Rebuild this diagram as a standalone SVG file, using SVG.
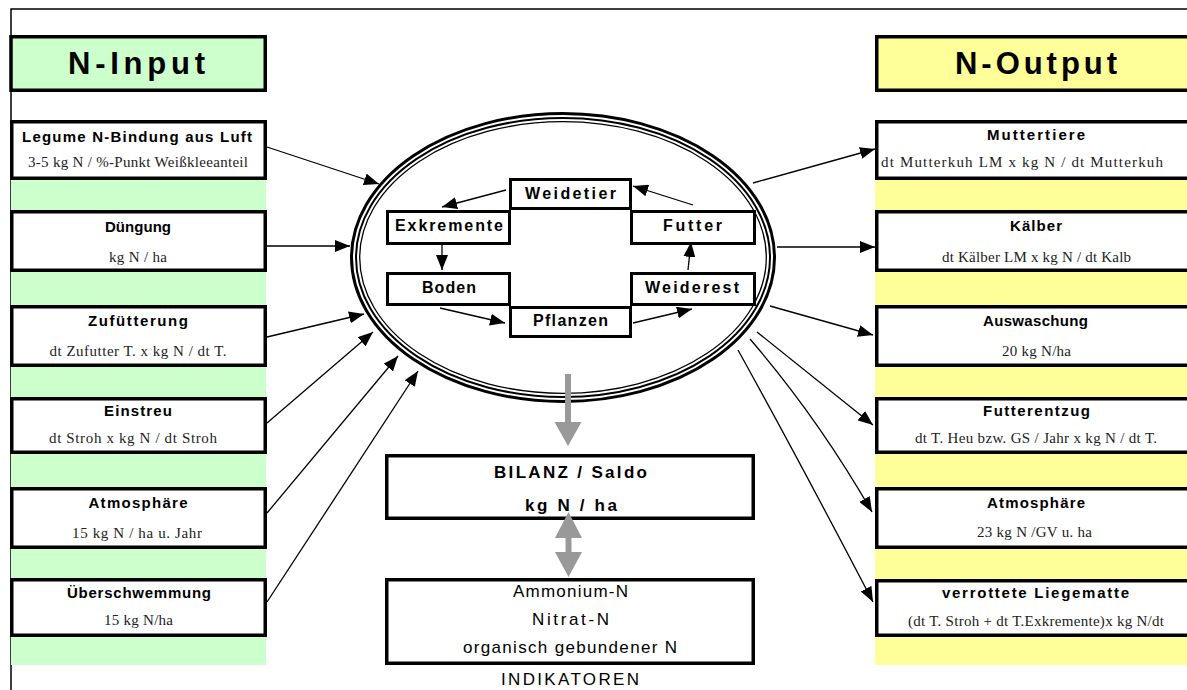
<svg xmlns="http://www.w3.org/2000/svg" width="1187" height="690" viewBox="0 0 1187 690">
<style>
.frame{fill:none;stroke:#000;stroke-width:1.5}
.box{fill:#fff;stroke:#000;stroke-width:3.5}
.ibox{fill:#fff;stroke:#000;stroke-width:3}
.hin{fill:#ccffcc;stroke:#000;stroke-width:3.5}
.hout{fill:#ffff99;stroke:#000;stroke-width:3.5}
.head{font-family:"Liberation Sans",Arial,sans-serif;font-weight:bold;font-size:31px;fill:#000;text-anchor:middle}
.t{font-family:"Liberation Sans",Arial,sans-serif;font-weight:bold;font-size:15px;fill:#000;text-anchor:middle}
.s{font-family:"Liberation Serif","Times New Roman",serif;font-size:15px;fill:#222;text-anchor:middle}
.it{font-family:"Liberation Sans",Arial,sans-serif;font-weight:bold;font-size:16px;fill:#000;text-anchor:middle}
.r{font-family:"Liberation Sans",Arial,sans-serif;font-size:17px;fill:#000;text-anchor:middle}
.b{font-family:"Liberation Sans",Arial,sans-serif;font-weight:bold;font-size:17px;fill:#000;text-anchor:middle}
.ln{fill:none;stroke:#000;stroke-width:1.3}
.gray{fill:#999999;stroke:none}
</style>
<defs>
<marker id="ah" markerUnits="userSpaceOnUse" markerWidth="16" markerHeight="12" refX="15" refY="6" orient="auto">
<path d="M0,0 L15,6 L0,12 z" fill="#000"/>
</marker>
</defs>
<rect width="1187" height="690" fill="#fff"/>
<path class="frame" d="M11,690 L11,9 L1187,9"/>

<!-- background columns -->
<rect x="11" y="180" width="255" height="485" fill="#ccffcc"/>
<rect x="875" y="180" width="312" height="485" fill="#ffff99"/>

<g id="header-input">
<rect class="hin" x="11" y="36.75" width="254.25" height="53.5"/>
<text class="head" x="136.5" y="74" textLength="137" lengthAdjust="spacing">N-Input</text>
</g>
<g id="header-output">
<rect class="hout" x="876.75" y="36.75" width="330" height="53.5"/>
<text class="head" x="1036" y="74" textLength="162" lengthAdjust="spacing">N-Output</text>
</g>

<!-- input nodes -->
<g id="in-legume">
<rect class="box" x="11.75" y="121.75" width="253.5" height="56.5"/>
<text class="t" x="137" y="142" textLength="230" lengthAdjust="spacing">Legume N-Bindung aus Luft</text>
<text class="s" x="138" y="167" textLength="220" lengthAdjust="spacing">3-5 kg N / %-Punkt Weißkleeanteil</text>
</g>
<g id="in-duengung">
<rect class="box" x="11.75" y="211.75" width="253.5" height="58.5"/>
<text class="t" x="138" y="232" textLength="66" lengthAdjust="spacing">Düngung</text>
<text class="s" x="138" y="262" textLength="58" lengthAdjust="spacing">kg N / ha</text>
</g>
<g id="in-zufuetterung">
<rect class="box" x="11.75" y="306.75" width="253.5" height="58.5"/>
<text class="t" x="138" y="326" textLength="100" lengthAdjust="spacing">Zufütterung</text>
<text class="s" x="138" y="356" textLength="177" lengthAdjust="spacing">dt Zufutter T. x  kg N / dt T.</text>
</g>
<g id="in-einstreu">
<rect class="box" x="11.75" y="398.75" width="253.5" height="53.5"/>
<text class="t" x="138" y="416" textLength="68" lengthAdjust="spacing">Einstreu</text>
<text class="s" x="133" y="443" textLength="168" lengthAdjust="spacing">dt Stroh x kg N / dt Stroh</text>
</g>
<g id="in-atmosphaere">
<rect class="box" x="11.75" y="488.75" width="253.5" height="58.5"/>
<text class="t" x="138" y="508" textLength="99" lengthAdjust="spacing">Atmosphäre</text>
<text class="s" x="137" y="538" textLength="130" lengthAdjust="spacing">15  kg N / ha u. Jahr</text>
</g>
<g id="in-ueberschwemmung">
<rect class="box" x="11.75" y="579.75" width="253.5" height="55.5"/>
<text class="t" x="139" y="598" textLength="144" lengthAdjust="spacing">Überschwemmung</text>
<text class="s" x="138.5" y="625" textLength="69" lengthAdjust="spacing">15 kg N/ha</text>
</g>

<!-- output nodes -->
<g id="out-muttertiere">
<rect class="box" x="876.75" y="121.75" width="330" height="56.5"/>
<text class="t" x="1036" y="140" textLength="98" lengthAdjust="spacing">Muttertiere</text>
<text class="s" x="1022" y="167" textLength="282" lengthAdjust="spacing">dt Mutterkuh LM x  kg N / dt Mutterkuh</text>
</g>
<g id="out-kaelber">
<rect class="box" x="876.75" y="211.75" width="330" height="58.5"/>
<text class="t" x="1036" y="231" textLength="52" lengthAdjust="spacing">Kälber</text>
<text class="s" x="1036.5" y="262" textLength="189" lengthAdjust="spacing">dt Kälber LM x kg N / dt Kalb</text>
</g>
<g id="out-auswaschung">
<rect class="box" x="876.75" y="306.75" width="330" height="58.5"/>
<text class="t" x="1035.5" y="326" textLength="105" lengthAdjust="spacing">Auswaschung</text>
<text class="s" x="1036.5" y="356" textLength="69" lengthAdjust="spacing">20 kg N/ha</text>
</g>
<g id="out-futterentzug">
<rect class="box" x="876.75" y="398.75" width="330" height="53.5"/>
<text class="t" x="1036.5" y="416" textLength="107" lengthAdjust="spacing">Futterentzug</text>
<text class="s" x="1036" y="443" textLength="242" lengthAdjust="spacing">dt T. Heu bzw. GS / Jahr x kg N / dt T.</text>
</g>
<g id="out-atmosphaere">
<rect class="box" x="876.75" y="488.75" width="330" height="58.5"/>
<text class="t" x="1036" y="508" textLength="98" lengthAdjust="spacing">Atmosphäre</text>
<text class="s" x="1034.5" y="537" textLength="115" lengthAdjust="spacing">23 kg N /GV u. ha</text>
</g>
<g id="out-liegematte">
<rect class="box" x="876.75" y="580.75" width="330" height="54.5"/>
<text class="t" x="1035.5" y="598" textLength="187" lengthAdjust="spacing">verrottete Liegematte</text>
<text class="s" x="1036" y="626" textLength="256" lengthAdjust="spacing">(dt T. Stroh + dt T.Exkremente)x kg N/dt</text>
</g>

<!-- central ellipse (pasture system) -->
<g id="system">
<ellipse cx="563" cy="257.5" rx="211.5" ry="144" fill="#fff" stroke="#000" stroke-width="3"/>
<ellipse cx="563" cy="257.5" rx="207" ry="139.5" fill="none" stroke="#000" stroke-width="2"/>
<ellipse cx="563" cy="257.5" rx="203.3" ry="135.8" fill="none" stroke="#000" stroke-width="1.3"/>
</g>

<g id="n-weidetier">
<rect class="ibox" x="510.5" y="179.5" width="120" height="29"/>
<text class="it" x="570.5" y="199" textLength="91" lengthAdjust="spacing">Weidetier</text>
</g>
<g id="n-exkremente">
<rect class="ibox" x="387.5" y="211.5" width="122" height="32"/>
<text class="it" x="449" y="231" textLength="108" lengthAdjust="spacing">Exkremente</text>
</g>
<g id="n-futter">
<rect class="ibox" x="631.5" y="211.5" width="123" height="32"/>
<text class="it" x="692.5" y="231" textLength="59" lengthAdjust="spacing">Futter</text>
</g>
<g id="n-boden">
<rect class="ibox" x="387.5" y="273.5" width="122" height="31"/>
<text class="it" x="449" y="293" textLength="54" lengthAdjust="spacing">Boden</text>
</g>
<g id="n-weiderest">
<rect class="ibox" x="631.5" y="273.5" width="123" height="31"/>
<text class="it" x="692" y="293" textLength="94" lengthAdjust="spacing">Weiderest</text>
</g>
<g id="n-pflanzen">
<rect class="ibox" x="510.5" y="307.5" width="120" height="29"/>
<text class="it" x="570.5" y="326" textLength="75" lengthAdjust="spacing">Pflanzen</text>
</g>

<g id="bilanz">
<rect class="box" x="386.75" y="455.75" width="366.5" height="62.5"/>
<text class="b" x="570.5" y="478" textLength="153" lengthAdjust="spacing">BILANZ / Saldo</text>
<text class="b" x="571" y="511" textLength="92" lengthAdjust="spacing">kg N / ha</text>
</g>
<g id="indikatoren">
<rect class="box" x="386.75" y="579.75" width="366.5" height="83.5"/>
<text class="r" x="570.5" y="597" textLength="115" lengthAdjust="spacing">Ammonium-N</text>
<text class="r" x="570.5" y="625" textLength="77" lengthAdjust="spacing">Nitrat-N</text>
<text class="r" x="570" y="653" textLength="214" lengthAdjust="spacing">organisch gebundener N</text>
<text class="r" x="570" y="685" textLength="138" lengthAdjust="spacing">INDIKATOREN</text>
</g>

<g id="connectors">
<!-- inputs -->
<line class="ln" x1="267" y1="147" x2="379" y2="184" marker-end="url(#ah)"/>
<line class="ln" x1="267" y1="246" x2="350" y2="246" marker-end="url(#ah)"/>
<line class="ln" x1="267" y1="337" x2="364" y2="314" marker-end="url(#ah)"/>
<line class="ln" x1="267" y1="423" x2="373" y2="332" marker-end="url(#ah)"/>
<line class="ln" x1="267" y1="513" x2="398" y2="356" marker-end="url(#ah)"/>
<line class="ln" x1="267" y1="602" x2="418" y2="371" marker-end="url(#ah)"/>
<!-- outputs -->
<line class="ln" x1="753" y1="183" x2="875" y2="149" marker-end="url(#ah)"/>
<line class="ln" x1="777" y1="247" x2="875" y2="247" marker-end="url(#ah)"/>
<line class="ln" x1="770" y1="306" x2="873" y2="335" marker-end="url(#ah)"/>
<line class="ln" x1="757" y1="332" x2="873" y2="425" marker-end="url(#ah)"/>
<path class="ln" d="M750,339 Q818,418 872,512" marker-end="url(#ah)"/>
<path class="ln" d="M738,350 Q800,462 873,602" marker-end="url(#ah)"/>
<!-- internal cycle -->
<line class="ln" x1="506" y1="190" x2="442" y2="207" marker-end="url(#ah)"/>
<line class="ln" x1="693" y1="205" x2="633" y2="186" marker-end="url(#ah)"/>
<line class="ln" x1="442" y1="245" x2="442" y2="270" marker-end="url(#ah)"/>
<line class="ln" x1="440" y1="308" x2="505" y2="323" marker-end="url(#ah)"/>
<line class="ln" x1="633" y1="323" x2="692" y2="309" marker-end="url(#ah)"/>
<line class="ln" x1="688" y1="270" x2="691" y2="242" marker-end="url(#ah)"/>
<!-- gray flow arrows -->
<polygon class="gray" points="565,374 571,374 571,422 581.5,422 568,446 554.5,422 565,422"/>
<polygon class="gray" points="568.5,512 582,538 571.5,538 571.5,552 582,552 568.5,577 555,552 565.5,552 565.5,538 555,538"/>
</g>
</svg>
